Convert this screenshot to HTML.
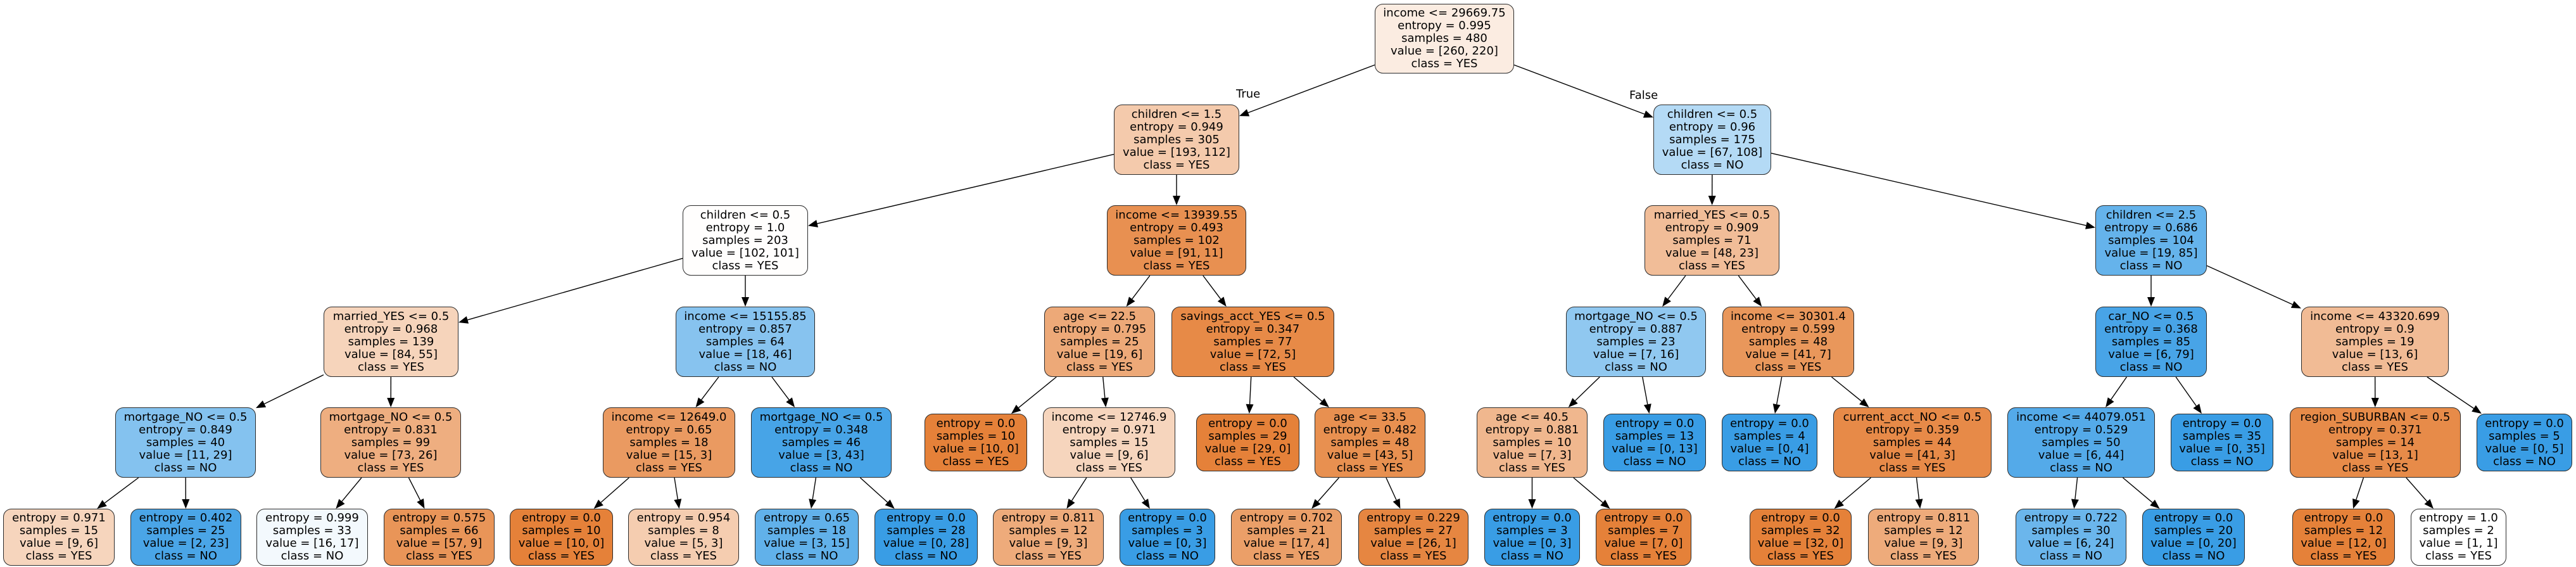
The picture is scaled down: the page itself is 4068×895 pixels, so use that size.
<!DOCTYPE html>
<html><head><meta charset="utf-8"><style>
html,body{margin:0;padding:0;background:#fff;}
#c{position:relative;width:4068px;height:895px;overflow:hidden;background:#fff;}
.n{position:absolute;box-sizing:border-box;border:1.4px solid #2b2b2b;border-radius:13px;display:flex;align-items:center;justify-content:center;text-align:center;font-family:"DejaVu Sans","Liberation Sans",sans-serif;font-size:18px;line-height:20px;color:#000;white-space:nowrap;}
.o{background-color:rgba(229,129,57,var(--a));}
.b{background-color:rgba(57,157,229,var(--a));}
.lbl{position:absolute;font-family:"DejaVu Sans","Liberation Sans",sans-serif;font-size:18px;line-height:20px;}
svg{position:absolute;left:0;top:0;}
</style></head><body><div id="c">
<svg id="s" width="4068" height="895"></svg>
<div class="lbl" style="left:1952px;top:139px">True</div>
<div class="lbl" style="left:2573px;top:141px">False</div>

<div class="n o" id="n0" style="--a:0.154;left:2171px;top:6px;width:220px;height:110px">income &lt;= 29669.75<br>entropy = 0.995<br>samples = 480<br>value = [260, 220]<br>class = YES</div>
<div class="n o" id="n1" style="--a:0.42;left:1759px;top:165px;width:198px;height:111px">children &lt;= 1.5<br>entropy = 0.949<br>samples = 305<br>value = [193, 112]<br>class = YES</div>
<div class="n b" id="n2" style="--a:0.38;left:2611px;top:165px;width:186px;height:111px">children &lt;= 0.5<br>entropy = 0.96<br>samples = 175<br>value = [67, 108]<br>class = NO</div>
<div class="n o" id="n3" style="--a:0.01;left:1078px;top:324px;width:198px;height:111px">children &lt;= 0.5<br>entropy = 1.0<br>samples = 203<br>value = [102, 101]<br>class = YES</div>
<div class="n o" id="n4" style="--a:0.879;left:1748px;top:324px;width:220px;height:111px">income &lt;= 13939.55<br>entropy = 0.493<br>samples = 102<br>value = [91, 11]<br>class = YES</div>
<div class="n o" id="n5" style="--a:0.521;left:2597px;top:324px;width:213px;height:111px">married_YES &lt;= 0.5<br>entropy = 0.909<br>samples = 71<br>value = [48, 23]<br>class = YES</div>
<div class="n b" id="n6" style="--a:0.776;left:3309px;top:324px;width:176px;height:111px">children &lt;= 2.5<br>entropy = 0.686<br>samples = 104<br>value = [19, 85]<br>class = NO</div>
<div class="n o" id="n7" style="--a:0.345;left:511px;top:484px;width:213px;height:111px">married_YES &lt;= 0.5<br>entropy = 0.968<br>samples = 139<br>value = [84, 55]<br>class = YES</div>
<div class="n b" id="n8" style="--a:0.609;left:1067px;top:484px;width:220px;height:111px">income &lt;= 15155.85<br>entropy = 0.857<br>samples = 64<br>value = [18, 46]<br>class = NO</div>
<div class="n o" id="n9" style="--a:0.684;left:1649px;top:484px;width:175px;height:111px">age &lt;= 22.5<br>entropy = 0.795<br>samples = 25<br>value = [19, 6]<br>class = YES</div>
<div class="n o" id="n10" style="--a:0.931;left:1850px;top:484px;width:257px;height:111px">savings_acct_YES &lt;= 0.5<br>entropy = 0.347<br>samples = 77<br>value = [72, 5]<br>class = YES</div>
<div class="n b" id="n11" style="--a:0.5625;left:2473px;top:484px;width:221px;height:111px">mortgage_NO &lt;= 0.5<br>entropy = 0.887<br>samples = 23<br>value = [7, 16]<br>class = NO</div>
<div class="n o" id="n12" style="--a:0.829;left:2720px;top:484px;width:208px;height:111px">income &lt;= 30301.4<br>entropy = 0.599<br>samples = 48<br>value = [41, 7]<br>class = YES</div>
<div class="n b" id="n13" style="--a:0.924;left:3309px;top:484px;width:176px;height:111px">car_NO &lt;= 0.5<br>entropy = 0.368<br>samples = 85<br>value = [6, 79]<br>class = NO</div>
<div class="n o" id="n14" style="--a:0.538;left:3634px;top:484px;width:233px;height:111px">income &lt;= 43320.699<br>entropy = 0.9<br>samples = 19<br>value = [13, 6]<br>class = YES</div>

<div class="n b" id="n15" style="--a:0.621;left:182px;top:643px;width:222px;height:111px">mortgage_NO &lt;= 0.5<br>entropy = 0.849<br>samples = 40<br>value = [11, 29]<br>class = NO</div>
<div class="n o" id="n16" style="--a:0.644;left:506px;top:643px;width:222px;height:111px">mortgage_NO &lt;= 0.5<br>entropy = 0.831<br>samples = 99<br>value = [73, 26]<br>class = YES</div>
<div class="n o" id="n17" style="--a:0.8;left:952px;top:643px;width:209px;height:111px">income &lt;= 12649.0<br>entropy = 0.65<br>samples = 18<br>value = [15, 3]<br>class = YES</div>
<div class="n b" id="n18" style="--a:0.93;left:1186px;top:643px;width:222px;height:111px">mortgage_NO &lt;= 0.5<br>entropy = 0.348<br>samples = 46<br>value = [3, 43]<br>class = NO</div>
<div class="n o" id="n19" style="--a:1;left:1460px;top:653px;width:162px;height:91px">entropy = 0.0<br>samples = 10<br>value = [10, 0]<br>class = YES</div>
<div class="n o" id="n20" style="--a:0.333;left:1647px;top:643px;width:209px;height:111px">income &lt;= 12746.9<br>entropy = 0.971<br>samples = 15<br>value = [9, 6]<br>class = YES</div>
<div class="n o" id="n21" style="--a:1;left:1889px;top:653px;width:163px;height:91px">entropy = 0.0<br>samples = 29<br>value = [29, 0]<br>class = YES</div>
<div class="n o" id="n22" style="--a:0.884;left:2076px;top:643px;width:175px;height:111px">age &lt;= 33.5<br>entropy = 0.482<br>samples = 48<br>value = [43, 5]<br>class = YES</div>
<div class="n o" id="n23" style="--a:0.571;left:2332px;top:643px;width:175px;height:111px">age &lt;= 40.5<br>entropy = 0.881<br>samples = 10<br>value = [7, 3]<br>class = YES</div>
<div class="n b" id="n24" style="--a:1;left:2532px;top:653px;width:162px;height:91px">entropy = 0.0<br>samples = 13<br>value = [0, 13]<br>class = NO</div>
<div class="n b" id="n25" style="--a:1;left:2719px;top:653px;width:151px;height:91px">entropy = 0.0<br>samples = 4<br>value = [0, 4]<br>class = NO</div>
<div class="n o" id="n26" style="--a:0.927;left:2895px;top:643px;width:250px;height:111px">current_acct_NO &lt;= 0.5<br>entropy = 0.359<br>samples = 44<br>value = [41, 3]<br>class = YES</div>
<div class="n b" id="n27" style="--a:0.864;left:3170px;top:643px;width:233px;height:111px">income &lt;= 44079.051<br>entropy = 0.529<br>samples = 50<br>value = [6, 44]<br>class = NO</div>
<div class="n b" id="n28" style="--a:1;left:3428px;top:653px;width:162px;height:91px">entropy = 0.0<br>samples = 35<br>value = [0, 35]<br>class = NO</div>
<div class="n o" id="n29" style="--a:0.923;left:3616px;top:643px;width:270px;height:111px">region_SUBURBAN &lt;= 0.5<br>entropy = 0.371<br>samples = 14<br>value = [13, 1]<br>class = YES</div>
<div class="n b" id="n30" style="--a:1;left:3911px;top:653px;width:151px;height:91px">entropy = 0.0<br>samples = 5<br>value = [0, 5]<br>class = NO</div>

<div class="n o" id="n31" style="--a:0.333;left:5px;top:803px;width:176px;height:90px">entropy = 0.971<br>samples = 15<br>value = [9, 6]<br>class = YES</div>
<div class="n b" id="n32" style="--a:0.913;left:206px;top:803px;width:175px;height:90px">entropy = 0.402<br>samples = 25<br>value = [2, 23]<br>class = NO</div>
<div class="n b" id="n33" style="--a:0.059;left:405px;top:803px;width:176px;height:90px">entropy = 0.999<br>samples = 33<br>value = [16, 17]<br>class = NO</div>
<div class="n o" id="n34" style="--a:0.842;left:606px;top:803px;width:175px;height:90px">entropy = 0.575<br>samples = 66<br>value = [57, 9]<br>class = YES</div>
<div class="n o" id="n35" style="--a:1;left:805px;top:803px;width:163px;height:90px">entropy = 0.0<br>samples = 10<br>value = [10, 0]<br>class = YES</div>
<div class="n o" id="n36" style="--a:0.4;left:992px;top:803px;width:175px;height:90px">entropy = 0.954<br>samples = 8<br>value = [5, 3]<br>class = YES</div>
<div class="n b" id="n37" style="--a:0.8;left:1192px;top:803px;width:164px;height:90px">entropy = 0.65<br>samples = 18<br>value = [3, 15]<br>class = NO</div>
<div class="n b" id="n38" style="--a:1;left:1381px;top:803px;width:163px;height:90px">entropy = 0.0<br>samples = 28<br>value = [0, 28]<br>class = NO</div>
<div class="n o" id="n39" style="--a:0.667;left:1568px;top:803px;width:175px;height:90px">entropy = 0.811<br>samples = 12<br>value = [9, 3]<br>class = YES</div>
<div class="n b" id="n40" style="--a:1;left:1768px;top:803px;width:151px;height:90px">entropy = 0.0<br>samples = 3<br>value = [0, 3]<br>class = NO</div>
<div class="n o" id="n41" style="--a:0.765;left:1944px;top:803px;width:175px;height:90px">entropy = 0.702<br>samples = 21<br>value = [17, 4]<br>class = YES</div>
<div class="n o" id="n42" style="--a:0.962;left:2145px;top:803px;width:174px;height:90px">entropy = 0.229<br>samples = 27<br>value = [26, 1]<br>class = YES</div>
<div class="n b" id="n43" style="--a:1;left:2344px;top:803px;width:151px;height:90px">entropy = 0.0<br>samples = 3<br>value = [0, 3]<br>class = NO</div>
<div class="n o" id="n44" style="--a:1;left:2520px;top:803px;width:151px;height:90px">entropy = 0.0<br>samples = 7<br>value = [7, 0]<br>class = YES</div>
<div class="n o" id="n45" style="--a:1;left:2763px;top:803px;width:161px;height:90px">entropy = 0.0<br>samples = 32<br>value = [32, 0]<br>class = YES</div>
<div class="n o" id="n46" style="--a:0.667;left:2950px;top:803px;width:175px;height:90px">entropy = 0.811<br>samples = 12<br>value = [9, 3]<br>class = YES</div>
<div class="n b" id="n47" style="--a:0.75;left:3183px;top:803px;width:175px;height:90px">entropy = 0.722<br>samples = 30<br>value = [6, 24]<br>class = NO</div>
<div class="n b" id="n48" style="--a:1;left:3383px;top:803px;width:162px;height:90px">entropy = 0.0<br>samples = 20<br>value = [0, 20]<br>class = NO</div>
<div class="n o" id="n49" style="--a:1;left:3620px;top:803px;width:162px;height:90px">entropy = 0.0<br>samples = 12<br>value = [12, 0]<br>class = YES</div>
<div class="n o" id="n50" style="--a:0;left:3807px;top:803px;width:151px;height:90px">entropy = 1.0<br>samples = 2<br>value = [1, 1]<br>class = YES</div>
</div>
<script>
(function(){
var E=[[0,1],[0,2],[1,3],[1,4],[2,5],[2,6],[3,7],[3,8],[4,9],[4,10],[5,11],[5,12],[6,13],[6,14],[7,15],[7,16],[8,17],[8,18],[9,19],[9,20],[10,21],[10,22],[11,23],[11,24],[12,25],[12,26],[13,27],[13,28],[14,29],[14,30],[15,31],[15,32],[16,33],[16,34],[17,35],[17,36],[18,37],[18,38],[20,39],[20,40],[22,41],[22,42],[23,43],[23,44],[26,45],[26,46],[27,47],[27,48],[29,49],[29,50]];
function box(i){var d=document.getElementById('n'+i);return {x:d.offsetLeft,y:d.offsetTop,w:d.offsetWidth,h:d.offsetHeight};}
function clip(b,cx,cy,dx,dy){var hw=b.w/2,hh=b.h/2;var t=Math.min(dx?hw/Math.abs(dx):1e9,dy?hh/Math.abs(dy):1e9);return [cx+dx*t,cy+dy*t];}
var s=document.getElementById('s'),ns='http://www.w3.org/2000/svg',h='';
E.forEach(function(e){var a=box(e[0]),b=box(e[1]);
var ax=a.x+a.w/2,ay=a.y+a.h/2,bx=b.x+b.w/2,by=b.y+b.h/2;
var dx=bx-ax,dy=by-ay;
var p=clip(a,ax,ay,dx,dy),q=clip(b,bx,by,-dx,-dy);
var L=Math.hypot(q[0]-p[0],q[1]-p[1]),ux=(q[0]-p[0])/L,uy=(q[1]-p[1])/L;
var al=15,aw=6;var ex=q[0]-ux*al,ey=q[1]-uy*al;
h+='<line x1="'+p[0]+'" y1="'+p[1]+'" x2="'+ex+'" y2="'+ey+'" stroke="#000" stroke-width="1.4"/>';
h+='<polygon points="'+q[0]+','+q[1]+' '+(ex-uy*aw)+','+(ey+ux*aw)+' '+(ex+uy*aw)+','+(ey-ux*aw)+'" fill="#000"/>';
});
s.innerHTML=h;
})();
</script>
</body></html>
